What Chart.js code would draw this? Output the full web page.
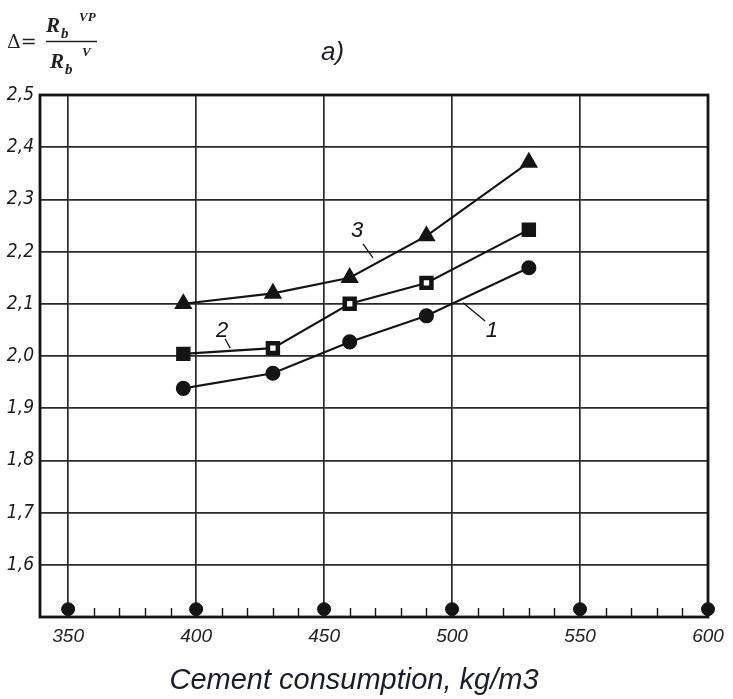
<!DOCTYPE html>
<html><head><meta charset="utf-8">
<script src="https://cdn.jsdelivr.net/npm/chart.js@4/dist/chart.umd.min.js"></script>
<style>html,body{margin:0;padding:0;background:#fff}#wrap{width:733px;height:699px;position:relative}</style>
</head><body><div id="wrap"><canvas id="c" width="733" height="699"></canvas></div>
<script>
// ---- data ----
const cementX = [395, 430, 460, 490, 530];
const series1 = [1.938, 1.967, 2.027, 2.077, 2.169];
const series2 = [2.004, 2.015, 2.100, 2.140, 2.242];
const series3 = [2.100, 2.120, 2.150, 2.230, 2.371];
const seriesNames = ['1', '2', '3'];
const axisMarkX = [350, 400, 450, 500, 550, 600];
const axisMarkY = [1.515, 1.515, 1.515, 1.515, 1.515, 1.515];
const xTickValues = [350, 400, 450, 500, 550, 600];
const xTickLabels = ['350', '400', '450', '500', '550', '600'];
const yTickValues = [1.6, 1.7, 1.8, 1.9, 2.0, 2.1, 2.2, 2.3, 2.4, 2.5];
const yTickLabels = ['1,6', '1,7', '1,8', '1,9', '2,0', '2,1', '2,2', '2,3', '2,4', '2,5'];
const xTitle = 'Cement consumption, kg/m3';
const panelLabel = 'a)';
// label anchor [x, y] and leader line [x1, y1, x2, y2], in data units
const labelAnchors = [[515.6, 2.048], [410.2, 2.048], [462.9, 2.240]];
const leaderLines = [[504.3, 2.102, 512.9, 2.067], [411.3, 2.033, 413.3, 2.015], [465.2, 2.215, 469.1, 2.188]];

const INK = '#141414';
const GRID = '#2a2a2a';

const pts = ys => cementX.map((x, i) => ({x: x, y: ys[i]}));

const decorPlugin = {
  id: 'decor',
  beforeDatasetsDraw(chart) {
    const {ctx, chartArea: a, scales: {x}} = chart;
    ctx.save();
    ctx.strokeStyle = INK;
    ctx.lineWidth = 2.8;
    ctx.strokeRect(a.left, a.top, a.right - a.left, a.bottom - a.top);
    // minor ticks on the bottom axis
    ctx.lineWidth = 1.4;
    for (let v = 360; v < 600; v += 10) {
      if (v % 50 === 0) continue;
      const px = Math.round(x.getPixelForValue(v)) + 0.5;
      ctx.beginPath();
      ctx.moveTo(px, a.bottom);
      ctx.lineTo(px, a.bottom - 9);
      ctx.stroke();
    }
    ctx.restore();
  },
  afterDatasetsDraw(chart) {
    const {ctx, scales: {x, y}} = chart;
    ctx.save();
    ctx.strokeStyle = INK;
    ctx.fillStyle = INK;
    ctx.lineWidth = 1.3;
    leaderLines.forEach(l => {
      ctx.beginPath();
      ctx.moveTo(x.getPixelForValue(l[0]), y.getPixelForValue(l[1]));
      ctx.lineTo(x.getPixelForValue(l[2]), y.getPixelForValue(l[3]));
      ctx.stroke();
    });
    ctx.font = 'italic 22px "Liberation Sans", sans-serif';
    ctx.textAlign = 'center';
    ctx.textBaseline = 'middle';
    labelAnchors.forEach((p, i) => {
      ctx.fillText(seriesNames[i], x.getPixelForValue(p[0]), y.getPixelForValue(p[1]));
    });
    ctx.restore();
  },
  afterDraw(chart) {
    const {ctx} = chart;
    ctx.save();
    ctx.fillStyle = '#222';
    ctx.textBaseline = 'alphabetic';
    ctx.textAlign = 'left';
    // formula
    ctx.font = '19px "DejaVu Serif", serif';
    ctx.fillText('\u0394=', 7, 48);
    ctx.strokeStyle = '#222';
    ctx.lineWidth = 1.6;
    ctx.beginPath(); ctx.moveTo(46, 41.5); ctx.lineTo(97, 41.5); ctx.stroke();
    ctx.font = 'italic bold 21px "Liberation Serif", serif';
    ctx.fillText('R', 46, 32);
    ctx.fillText('R', 50, 68);
    ctx.font = 'italic bold 15px "Liberation Serif", serif';
    ctx.fillText('b', 61, 38);
    ctx.fillText('b', 65, 74);
    ctx.font = 'italic bold 13px "Liberation Serif", serif';
    ctx.fillText('VP', 79, 21);
    ctx.fillText('V', 82, 56);
    // panel label
    ctx.fillStyle = '#1c1c2a';
    ctx.font = 'italic 26px "Liberation Sans", sans-serif';
    ctx.fillText(panelLabel, 321, 60);
    // x title
    ctx.textAlign = 'center';
    ctx.font = 'italic 29px "Liberation Sans", sans-serif';
    ctx.fillText(xTitle, 354, 689);
    ctx.restore();
  }
};

new Chart(document.getElementById('c'), {
  type: 'line',
  data: {
    datasets: [
      {label: seriesNames[0], data: pts(series1), borderColor: INK, backgroundColor: INK,
       borderWidth: 2.1, pointStyle: 'circle', pointRadius: 6.5, pointBackgroundColor: INK, pointBorderColor: INK},
      {label: seriesNames[1], data: pts(series2), borderColor: INK, backgroundColor: INK,
       borderWidth: 2.1, pointStyle: 'rect', pointRadius: 7, pointBorderWidth: 4.5,
       pointBackgroundColor: [INK, '#fff', '#fff', '#fff', INK], pointBorderColor: INK},
      {label: seriesNames[2], data: pts(series3), borderColor: INK, backgroundColor: INK,
       borderWidth: 2.1, pointStyle: 'triangle', pointRadius: 8.5, pointBackgroundColor: INK, pointBorderColor: INK},
      {label: 'axis', data: axisMarkX.map((v, i) => ({x: v, y: axisMarkY[i]})), showLine: false,
       pointStyle: 'circle', pointRadius: 6.5, pointBackgroundColor: INK, pointBorderColor: INK, clip: false}
    ]
  },
  options: {
    responsive: false,
    devicePixelRatio: 1,
    animation: false,
    layout: {padding: {top: 95, right: 25, bottom: 0, left: 0}},
    plugins: {legend: {display: false}, tooltip: {enabled: false}, title: {display: false}},
    elements: {line: {tension: 0}},
    scales: {
      x: {
        type: 'linear', min: 339, max: 600,
        afterBuildTicks: s => { const t = []; for (let v = 350; v <= 600; v += 10) t.push({value: v}); s.ticks = t; },
        afterFit: s => { s.height = 82; },
        border: {display: false},
        grid: {drawTicks: false, lineWidth: 1.7,
               color: c => (c.tick && c.tick.value % 50 === 0) ? GRID : 'rgba(0,0,0,0)'},
        ticks: {autoSkip: false, maxRotation: 0, padding: 8, color: '#222',
                font: {family: '"Liberation Sans", sans-serif', style: 'italic', size: 19},
                callback: v => { const i = xTickValues.indexOf(v); return i >= 0 ? xTickLabels[i] : ''; }}
      },
      y: {
        type: 'linear', min: 1.5, max: 2.5,
        afterBuildTicks: s => { s.ticks = [{value: 1.5}].concat(yTickValues.map(v => ({value: v}))); },
        afterFit: s => { s.width = 40; },
        border: {display: false},
        grid: {drawTicks: false, lineWidth: 1.7, color: GRID},
        ticks: {padding: 6, color: '#1a1a1a',
                font: {family: '"Liberation Sans Narrow", "DejaVu Sans Condensed", sans-serif', style: 'italic', size: 19},
                callback: v => { const i = yTickValues.findIndex(t => Math.abs(t - v) < 1e-6); return i >= 0 ? yTickLabels[i] : ''; }}
      }
    }
  },
  plugins: [decorPlugin]
});
</script></body></html>
